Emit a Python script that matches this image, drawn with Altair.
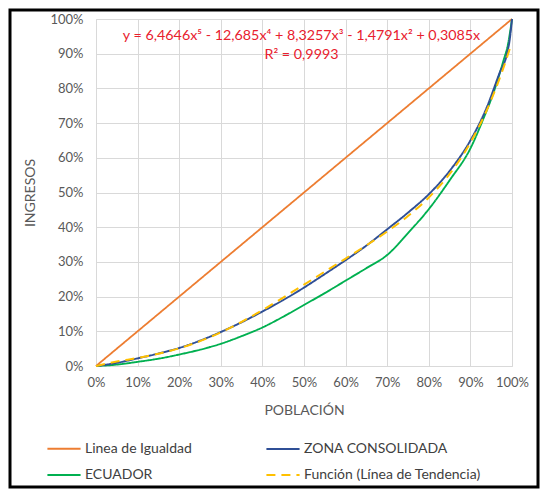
import altair as alt
import pandas as pd

# ---------------- data ----------------
# legend order (laid out column by column): Linea, ECUADOR | ZONA, Función
series_names = ["Linea de Igualdad", "ECUADOR", "ZONA CONSOLIDADA", "Función (Línea de Tendencia)"]
series_colors = ["#ED7D31", "#00B050", "#2F4F96", "#FFC000"]
series_dash = [[1, 0], [1, 0], [1, 0], [9, 6]]
series_width = [1.8, 2.0, 2.0, 3.2]
draw_order = ["Linea de Igualdad", "ECUADOR", "ZONA CONSOLIDADA", "Función (Línea de Tendencia)"]

igualdad_x = [0.0, 1.0]
igualdad_y = [0.0, 1.0]

zona_x = [0.0, 0.05, 0.10, 0.15, 0.20, 0.25, 0.30, 0.35, 0.40, 0.45, 0.50, 0.55, 0.60, 0.65,
          0.70, 0.75, 0.80, 0.85, 0.90, 0.94, 0.97, 0.988, 0.995, 1.0]
zona_y = [0.0, 0.009, 0.022, 0.036, 0.052, 0.073, 0.098, 0.126, 0.157, 0.190, 0.226, 0.265,
          0.305, 0.347, 0.394, 0.442, 0.495, 0.562, 0.650, 0.747, 0.844, 0.90, 0.945, 1.0]

ecuador_x = [0.0, 0.05, 0.10, 0.15, 0.20, 0.25, 0.30, 0.35, 0.40, 0.45, 0.50, 0.55, 0.60, 0.65,
             0.70, 0.75, 0.80, 0.85, 0.90, 0.93, 0.955, 0.98, 0.99, 1.0]
ecuador_y = [0.0, 0.004, 0.012, 0.021, 0.033, 0.047, 0.064, 0.086, 0.111, 0.142, 0.176, 0.210,
             0.246, 0.282, 0.320, 0.383, 0.452, 0.535, 0.627, 0.709, 0.786, 0.882, 0.925, 1.0]

tendencia_x = [0.0, 0.05, 0.10, 0.15, 0.20, 0.25, 0.30, 0.35, 0.40, 0.45, 0.50, 0.55, 0.60,
               0.65, 0.70, 0.75, 0.80, 0.85, 0.90, 0.95, 0.975, 0.99, 0.997]
tendencia_y = [0.0, 0.0127, 0.0232, 0.0352, 0.0509, 0.0715, 0.0972, 0.1273, 0.1611, 0.1971,
               0.2344, 0.2720, 0.3097, 0.3478, 0.3877, 0.4322, 0.4855, 0.5533, 0.6437, 0.7667,
               0.8441, 0.8968, 0.923]

eq_lines = ["y = 6,4646x⁵ - 12,685x⁴ + 8,3257x³ - 1,4791x² + 0,3085x", "R² = 0,9993"]
eq_x = [0.494, 0.494]
eq_y = [0.95, 0.895]

tick_vals = [i / 10 for i in range(11)]

# ---------------- table ----------------
def frame(xs, ys, name):
    return pd.DataFrame({"x": xs, "y": ys, "serie": name, "i": range(len(xs))})

parts = {
    "Linea de Igualdad": frame(igualdad_x, igualdad_y, "Linea de Igualdad"),
    "ZONA CONSOLIDADA": frame(zona_x, zona_y, "ZONA CONSOLIDADA"),
    "ECUADOR": frame(ecuador_x, ecuador_y, "ECUADOR"),
    "Función (Línea de Tendencia)": frame(tendencia_x, tendencia_y, "Función (Línea de Tendencia)"),
}
df = pd.concat([parts[n] for n in draw_order], ignore_index=True)
df_eq = pd.DataFrame({"t": eq_lines, "x": eq_x, "y": eq_y})

FONT = "Lato"
GRAY = "#595959"

legend = alt.Legend(
    title=None, orient="none", legendX=-50, legendY=412, columns=2,
    symbolType="stroke", symbolSize=1100, symbolStrokeWidth=2.2,
    labelFont=FONT, labelFontSize=14, labelColor="#404040",
    rowPadding=1, columnPadding=70, labelOffset=3, labelLimit=300,
)

xs = alt.Scale(domain=[0, 1], nice=False)
ys = alt.Scale(domain=[0, 1], nice=False)

x_axis = alt.Axis(values=tick_vals, format=".0%", title="POBLACIÓN",
                  labelFont=FONT, labelFontSize=13, labelColor=GRAY,
                  titleFont=FONT, titleFontSize=14, titleColor=GRAY,
                  titleFontWeight="normal", labelPadding=10, titlePadding=14,
                  labelOverlap=False, labelFlush=False,
                  domain=False, ticks=False, gridColor="#D9D9D9")
y_axis = alt.Axis(values=tick_vals, format=".0%", title="INGRESOS",
                  labelFont=FONT, labelFontSize=13, labelColor=GRAY,
                  titleFont=FONT, titleFontSize=14, titleColor=GRAY,
                  titleFontWeight="normal", labelPadding=13, titlePadding=12,
                  labelOverlap=False, labelFlush=False,
                  domain=False, ticks=False, gridColor="#D9D9D9")

lines = alt.Chart(df).mark_line(interpolate="monotone").encode(
    x=alt.X("x:Q", scale=xs, axis=x_axis),
    y=alt.Y("y:Q", scale=ys, axis=y_axis),
    color=alt.Color("serie:N", scale=alt.Scale(domain=series_names, range=series_colors),
                    legend=legend),
    strokeDash=alt.StrokeDash("serie:N",
                              scale=alt.Scale(domain=series_names, range=series_dash),
                              legend=legend),
    strokeWidth=alt.StrokeWidth("serie:N",
                                scale=alt.Scale(domain=series_names, range=series_width),
                                legend=legend),
    order="i:Q",
)

eq_text = alt.Chart(df_eq).mark_text(
    font=FONT, fontSize=14.3, color="#E8202E", align="center", baseline="middle"
).encode(x=alt.X("x:Q", scale=xs, axis=x_axis), y=alt.Y("y:Q", scale=ys, axis=y_axis),
         text="t:N")

border = alt.Chart(pd.DataFrame({"a": [0]})).mark_rect(
    fill=None, stroke="#000000", strokeWidth=3
).encode(x=alt.value(-86), x2=alt.value(442), y=alt.value(-9), y2=alt.value(468))

chart = alt.layer(
    lines,
    eq_text,
    border,
).properties(
    width=416, height=347,
    padding={"left": 88, "top": 11, "right": 28, "bottom": 125},
    autosize=alt.AutoSizeParams(type="none"),
).configure_view(stroke=None).configure(background="white")

chart.save("out.html", embed_options={"renderer": "svg", "actions": False})
